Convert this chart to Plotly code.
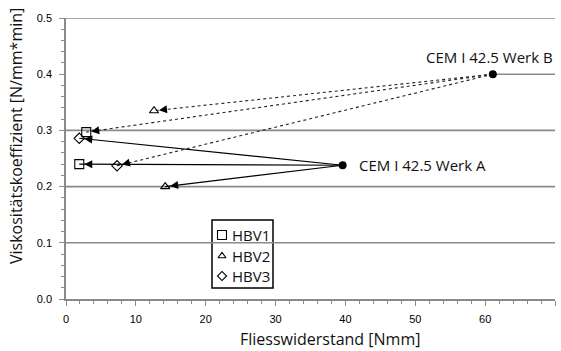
import plotly.graph_objects as go

# ---- data ----
source_names = ["CEM I 42.5 Werk A", "CEM I 42.5 Werk B"]
source_x = [39.6, 61.1]
source_y = [0.238, 0.400]

series_names = ["HBV1", "HBV2", "HBV3"]
series_symbols = ["square-open", "triangle-up-open", "diamond-open"]
series_sizes = [9, 8, 8]
legend_sizes = [9, 7, 7]
# values for Werk A, Werk B
hbv_x = {"HBV1": [1.9, 2.9], "HBV2": [14.2, 12.6], "HBV3": [1.9, 7.3]}
hbv_y = {"HBV1": [0.240, 0.297], "HBV2": [0.200, 0.335], "HBV3": [0.286, 0.237]}

grid_values = [0.1, 0.2, 0.3, 0.5]
x_range = [0, 70]
y_range = [0, 0.5]

# ---- layout geometry (pixels) ----
W, H = 561, 351
ML, MR, MT, MB = 66, 6, 18, 52
pw, ph = W - ML - MR, H - MT - MB
px_per_x = pw / (x_range[1] - x_range[0])
px_per_y = ph / (y_range[1] - y_range[0])


def pxx(p):  # pixel x -> paper
    return (p - ML) / pw


def pxy(p):  # pixel y -> paper
    return (H - MB - p) / ph


GRID = "#8a8a8a"
TXT = "#111"

fig = go.Figure()

line_styles = [dict(color="black", width=1.1, dash="solid"),
               dict(color="#222", width=1.1, dash="dot")]

# connecting lines
for si in range(len(source_names)):
    for s in series_names:
        fig.add_trace(go.Scatter(
            x=[source_x[si], hbv_x[s][si]], y=[source_y[si], hbv_y[s][si]],
            mode="lines", line=line_styles[si], showlegend=False, hoverinfo="skip"))

# markers
for s, sym, sz in zip(series_names, series_symbols, series_sizes):
    fig.add_trace(go.Scatter(
        x=hbv_x[s], y=hbv_y[s], mode="markers", name=s, showlegend=False,
        marker=dict(symbol=sym, size=sz, color="black", line=dict(width=1.1, color="black")),
    ))
fig.add_trace(go.Scatter(x=source_x, y=source_y, mode="markers", name="Zement",
                         marker=dict(color="black", size=8), showlegend=False))

# legend keys (drawn on an invisible overlay axis spanning the plot area in 0..1 units)
legend_rows_px = [235, 256, 276]
legend_sym_x_px = 222
for s, sym, sz, ry in zip(series_names, series_symbols, legend_sizes, legend_rows_px):
    fig.add_trace(go.Scatter(
        x=[pxx(legend_sym_x_px)], y=[pxy(ry)], xaxis="x2", yaxis="y2", mode="markers",
        marker=dict(symbol=sym, size=sz, color="black", line=dict(width=1.1, color="black")),
        showlegend=False, hoverinfo="skip"))

# arrowheads
annotations = []
for si in range(len(source_names)):
    for s in series_names:
        tx, ty = hbv_x[s][si], hbv_y[s][si]
        dxp = (source_x[si] - tx) * px_per_x
        dyp = (source_y[si] - ty) * px_per_y
        L = (dxp ** 2 + dyp ** 2) ** 0.5
        f = 14 / L
        annotations.append(dict(
            x=tx, y=ty, ax=tx + (source_x[si] - tx) * f, ay=ty + (source_y[si] - ty) * f,
            xref="x", yref="y", axref="x", ayref="y", text="", showarrow=True,
            arrowhead=2, arrowsize=1.6, arrowwidth=1, arrowcolor="black", standoff=5))

# source labels
annotations.append(dict(x=source_x[0], y=source_y[0], xref="x", yref="y", text=source_names[0],
                        showarrow=False, xanchor="left", yanchor="middle", xshift=14,
                        font=dict(family="Open Sans", size=15, color=TXT)))
annotations.append(dict(x=x_range[1], y=source_y[1], xref="x", yref="y", text=source_names[1],
                        showarrow=False, xanchor="right", yanchor="middle", yshift=17,
                        font=dict(family="Open Sans", size=15, color=TXT)))

# legend texts
for s, ry in zip(series_names, legend_rows_px):
    annotations.append(dict(x=pxx(230), y=pxy(ry), xref="paper", yref="paper", text=s,
                            showarrow=False, xanchor="left", yanchor="middle",
                            font=dict(family="Open Sans", size=15, color=TXT)))

# axis titles
annotations.append(dict(x=pxx(16), y=pxy(136), xref="paper", yref="paper",
                        text="Viskositätskoeffizient [N/mm*min]", textangle=-90, showarrow=False,
                        xanchor="center", yanchor="middle",
                        font=dict(family="Open Sans", size=16, color=TXT)))
annotations.append(dict(x=pxx(330), y=pxy(339), xref="paper", yref="paper",
                        text="Fliesswiderstand [Nmm]", showarrow=False,
                        xanchor="center", yanchor="middle",
                        font=dict(family="Open Sans", size=16, color=TXT)))

shapes = []
for g in grid_values:
    shapes.append(dict(type="line", xref="x", yref="y", x0=x_range[0], x1=x_range[1], y0=g, y1=g,
                       line=dict(color=GRID, width=1.6), layer="below"))
shapes.append(dict(type="line", xref="x", yref="y", x0=source_x[1], x1=x_range[1],
                   y0=source_y[1], y1=source_y[1], line=dict(color=GRID, width=1.6), layer="below"))
# legend box (below traces, above grid lines)
shapes.append(dict(type="rect", xref="paper", yref="paper", x0=pxx(212), x1=pxx(273),
                   y0=pxy(288), y1=pxy(220), line=dict(color="black", width=1.5),
                   fillcolor="white", layer="below"))

axis_common = dict(showgrid=False, zeroline=False, showline=True, linecolor=GRID, linewidth=1.6,
                   ticks="outside", tickcolor=GRID, ticklen=5, tickwidth=1, automargin=False,
                   tickfont=dict(family="Liberation Sans", size=11, color="#000"))

fig.update_layout(
    width=W, height=H, margin=dict(l=ML, r=MR, t=MT, b=MB, autoexpand=False),
    paper_bgcolor="white", plot_bgcolor="white",
    xaxis=dict(range=x_range, dtick=10, minor=dict(dtick=2, ticks="outside", ticklen=3,
                                                   tickcolor=GRID),
               ticklabelstandoff=4, **axis_common),
    yaxis=dict(range=y_range, dtick=0.1, tickformat=".1f",
               minor=dict(dtick=0.02, ticks="outside", ticklen=3, tickcolor=GRID),
               ticklabelstandoff=5, **axis_common),
    xaxis2=dict(overlaying="x", range=[0, 1], visible=False, fixedrange=True),
    yaxis2=dict(overlaying="y", range=[0, 1], visible=False, fixedrange=True),
    showlegend=False,
    annotations=annotations, shapes=shapes,
)

fig.write_html("out.html", config={"displayModeBar": False},
               post_script="document.body.style.margin='0';document.body.style.overflow='hidden';")
